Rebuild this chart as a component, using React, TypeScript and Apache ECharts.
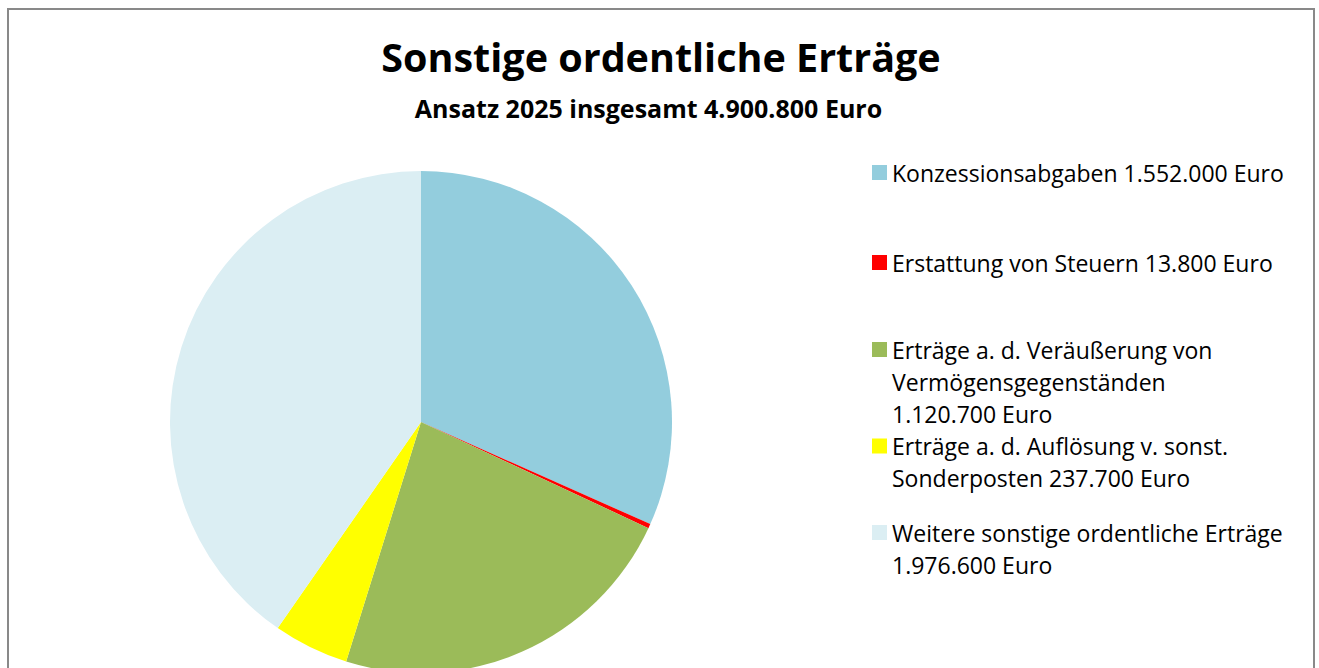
import React, { useEffect, useRef } from "react";
import * as echarts from "echarts";

const titleText = "Sonstige ordentliche Erträge";
const subtitleText = "Ansatz 2025 insgesamt 4.900.800 Euro";

const categories = [
  "Konzessionsabgaben",
  "Erstattung von Steuern",
  "Erträge a. d. Veräußerung von Vermögensgegenständen",
  "Erträge a. d. Auflösung v. sonst. Sonderposten",
  "Weitere sonstige ordentliche Erträge",
];
const values = [1552000, 13800, 1120700, 237700, 1976600];
const legendLabels = [
  "Konzessionsabgaben 1.552.000 Euro",
  "Erstattung von Steuern 13.800 Euro",
  "Erträge a. d. Veräußerung von\nVermögensgegenständen\n1.120.700 Euro",
  "Erträge a. d. Auflösung v. sonst.\nSonderposten 237.700 Euro",
  "Weitere sonstige ordentliche Erträge\n1.976.600 Euro",
];
const colors = ["#93CDDD", "#FF0000", "#9BBB59", "#FFFF00", "#DBEEF3"];

const legendIconCenters = [172.5, 262.5, 349.5, 446, 532.5];
const LINE_H = 32;
const SQ = 15;

export default function App() {
  const ref = useRef<HTMLDivElement>(null);
  useEffect(() => {
    document.body.style.margin = "0";
    document.documentElement.style.overflow = "hidden";
    if (!ref.current) return;
    const chart = echarts.init(ref.current, null, { renderer: "svg" });
    const fontFamily = "'Open Sans', Lato, sans-serif";
    const legends = categories.map((name, i) => {
      const n = legendLabels[i].split("\n").length;
      const h = n === 1 ? SQ : LINE_H * n - 17;
      const icon =
        n === 1
          ? "rect"
          : `path://M0,0L${SQ},0L${SQ},${SQ}L0,${SQ}Z M0,${h}L0.01,${h}L0,${h - 0.01}Z`;
      return {
        orient: "vertical",
        left: 872,
        top: legendIconCenters[i] - 16,
        padding: 0,
        itemWidth: SQ,
        itemHeight: h,
        itemGap: 0,
        icon,
        selectedMode: false,
        data: [name],
        formatter: () => legendLabels[i],
        textStyle: {
          fontFamily,
          fontSize: 23,
          color: "#000",
          lineHeight: LINE_H,
        },
      };
    });
    chart.setOption({
      animation: false,
      backgroundColor: "#fff",
      color: colors,
      title: [
        {
          text: titleText,
          left: 661,
          top: 37,
          padding: 0,
          textAlign: "center",
          textStyle: { fontFamily, fontWeight: "bold", fontSize: 39.5, color: "#000" },
        },
        {
          text: subtitleText,
          left: 648.5,
          top: 95,
          padding: 0,
          textAlign: "center",
          textStyle: { fontFamily, fontWeight: "bold", fontSize: 25, color: "#000" },
        },
      ],
      legend: legends,
      graphic: [
        {
          type: "rect",
          shape: { x: 8, y: 9, width: 1306, height: 720 },
          style: { fill: "none", stroke: "#898989", lineWidth: 2 },
          silent: true,
        },
      ],
      series: [
        {
          type: "pie",
          center: [421, 422],
          radius: 251,
          startAngle: 90,
          clockwise: true,
          silent: true,
          label: { show: false },
          labelLine: { show: false },
          itemStyle: { borderWidth: 0 },
          emphasis: { disabled: true },
          data: categories.map((name, i) => ({ name, value: values[i] })),
        },
      ],
    });
    return () => chart.dispose();
  }, []);
  return <div ref={ref} style={{ width: 1319, height: 668 }} />;
}
